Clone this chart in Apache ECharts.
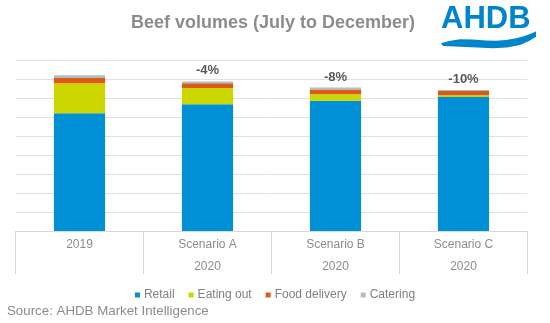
<!DOCTYPE html>
<html>
<head>
<meta charset="utf-8">
<script src="https://cdn.jsdelivr.net/npm/echarts@6/dist/echarts.min.js"></script>
<style>
html,body{margin:0;padding:0;background:#fff;}
#chart{width:550px;height:323px;}
</style>
</head>
<body>
<div id="chart"></div>
<script>
var categories = ['2019', 'Scenario A\n2020', 'Scenario B\n2020', 'Scenario C\n2020'];
var retail = [124, 133.5, 137, 141];
var eatingOut = [31.5, 17, 7, 2];
var foodDelivery = [5.5, 5, 5, 4.5];
var catering = [3, 2, 2, 1];
var changeLabels = ['', '-4%', '-8%', '-10%'];
var seriesNames = ['Retail', 'Eating out', 'Food delivery', 'Catering'];
var colors = ['#0090D5', '#CCD600', '#DC5A18', '#B0BEC6'];

var chart = echarts.init(document.getElementById('chart'));
var font = 'Liberation Sans, Arial, sans-serif';

function mk(name, data, color, withLabel) {
  var s = {
    name: name, type: 'bar', stack: 'total', data: data, barWidth: '40%',
    itemStyle: { color: color }, emphasis: { disabled: true }
  };
  if (withLabel) {
    s.label = {
      show: true, position: 'top', distance: 4,
      formatter: function (p) { return changeLabels[p.dataIndex]; },
      fontFamily: font, fontSize: 13, fontWeight: 'bold', color: '#595959'
    };
  }
  return s;
}

chart.setOption({
  animation: false,
  textStyle: { fontFamily: font },
  title: {
    text: 'Beef volumes (July to December)',
    left: 268, top: 9, textAlign: 'center',
    textStyle: { fontFamily: font, fontSize: 18, fontWeight: 'bold', color: '#8C8C8C' }
  },
  grid: { left: 15.5, right: 22.5, top: 60, bottom: 92, containLabel: false },
  legend: {
    top: 284, left: 'center', itemWidth: 5, itemHeight: 5, itemGap: 14,
    icon: 'rect',
    textStyle: { fontFamily: font, fontSize: 12, color: '#7F7F7F', padding: [0, 0, 0, -1] },
    data: seriesNames
  },
  xAxis: {
    type: 'category', data: categories,
    axisLine: { lineStyle: { color: '#D9D9D9', width: 1 } },
    axisTick: { show: true, length: 43, interval: 0, lineStyle: { color: '#D9D9D9' } },
    axisLabel: { interval: 0, margin: 3, fontFamily: font, fontSize: 12, color: '#8C8C8C', lineHeight: 22 }
  },
  yAxis: {
    type: 'value', min: 0, max: 180, interval: 20,
    axisLabel: { show: false }, axisLine: { show: false }, axisTick: { show: false },
    splitLine: { lineStyle: { color: '#E0E0E0', width: 1 } }
  },
  series: [
    mk(seriesNames[0], retail, colors[0], false),
    mk(seriesNames[1], eatingOut, colors[1], false),
    mk(seriesNames[2], foodDelivery, colors[2], false),
    mk(seriesNames[3], catering, colors[3], true)
  ],
  graphic: [
    {
      type: 'text', left: 7, top: 305,
      style: { text: 'Source: AHDB Market Intelligence', font: '13.3px ' + font, fill: '#8C8C8C' }
    },
    {
      type: 'text', left: 441, top: 4,
      style: { text: 'AHDB', font: 'bold 31px ' + font, fill: '#0085CA' }
    },
    {
      type: 'polygon', x: 441, y: 30,
      shape: { points: [[0, 13.3], [8, 11], [19, 9.3], [32, 9.5], [45, 10.5], [55, 10.8], [65, 10], [74, 8.5], [82, 6.5], [89, 4], [95, 1.5],
                        [95, 6.7], [88, 11], [79, 15], [66, 17.5], [52, 18.3], [36, 17.5], [19, 16.7], [8, 16.3], [2, 16]] },
      style: { fill: '#0085CA' }
    }
  ]
});
</script>
</body>
</html>
